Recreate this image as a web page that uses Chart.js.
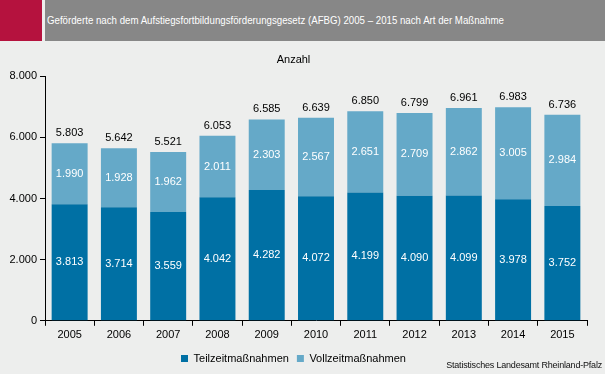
<!DOCTYPE html>
<html lang="de">
<head>
  <meta charset="UTF-8">
  <title>AFBG 2005 - 2015</title>
  <script src="https://cdn.jsdelivr.net/npm/chart.js"></script>
  <style>
    body {
      margin: 0;
      width: 605px;
      height: 374px;
      background: #edeeed;
      font-family: "Liberation Sans", Arial, sans-serif;
      overflow: hidden;
      position: relative;
    }
    .mark { position: absolute; left: 0; top: 0; width: 42px; height: 41px; background: #b5123e; }
    .head {
      position: absolute; left: 45px; top: 0; width: 560px; height: 41px;
      background: #878787; color: #fff; font-size: 11px; line-height: 40px;
      padding-left: 2px; box-sizing: border-box;
    }
    .head span { display: inline-block; transform: scaleX(0.88); transform-origin: left center; white-space: nowrap; }
    .box { position: absolute; left: 0; top: 45px; width: 605px; height: 329px; }
    .source { position: absolute; right: 3px; top: 360px; font-size: 9px; color: #111; letter-spacing: -0.2px; }
  </style>
</head>
<body>
  <div class="mark"></div>
  <div class="head"><span>Geförderte nach dem Aufstiegsfortbildungsförderungsgesetz (AFBG) 2005 – 2015 nach Art der Maßnahme</span></div>
  <div class="box"><canvas id="chart" width="605" height="329"></canvas></div>
  <div class="source">Statistisches Landesamt Rheinland-Pfalz</div>

  <script>
    const years = ['2005', '2006', '2007', '2008', '2009', '2010', '2011', '2012', '2013', '2014', '2015'];
    const teilzeit = [3813, 3714, 3559, 4042, 4282, 4072, 4199, 4090, 4099, 3978, 3752];
    const vollzeit = [1990, 1928, 1962, 2011, 2303, 2567, 2651, 2709, 2862, 3005, 2984];
    const totals = [5803, 5642, 5521, 6053, 6585, 6639, 6850, 6799, 6961, 6983, 6736];

    const fmt = v => String(v).replace(/\B(?=(\d{3})+(?!\d))/g, '.');

    // zahlen in den balken und summen darueber
    const valueLabels = {
      id: 'valueLabels',
      afterDatasetsDraw(chart) {
        const ctx = chart.ctx;
        ctx.save();
        ctx.font = '11px "Liberation Sans", Arial, sans-serif';
        ctx.textAlign = 'center';
        ctx.textBaseline = 'middle';
        chart.data.datasets.forEach((ds, i) => {
          chart.getDatasetMeta(i).data.forEach((bar, j) => {
            ctx.fillStyle = '#ffffff';
            ctx.fillText(fmt(ds.data[j]), bar.x, (bar.y + bar.base) / 2);
          });
        });
        const top = chart.getDatasetMeta(1).data;
        ctx.fillStyle = '#000000';
        top.forEach((bar, j) => ctx.fillText(fmt(totals[j]), bar.x, bar.y - 10));
        ctx.restore();
      }
    };

    new Chart(document.getElementById('chart'), {
      type: 'bar',
      data: {
        labels: years,
        datasets: [
          { label: 'Teilzeitmaßnahmen', data: teilzeit, backgroundColor: '#0070a4' },
          { label: 'Vollzeitmaßnahmen', data: vollzeit, backgroundColor: '#65a9c8' }
        ]
      },
      options: {
        responsive: false,
        animation: false,
        devicePixelRatio: 1,
        barPercentage: 0.73,
        categoryPercentage: 1,
        layout: { padding: { left: 0, right: 18, top: 0, bottom: 0 } },
        scales: {
          x: {
            stacked: true,
            border: { color: '#000', width: 1 },
            grid: { drawOnChartArea: false, color: '#000', tickLength: 5, offset: true },
            ticks: { color: '#000', maxRotation: 0, font: { size: 11, family: '"Liberation Sans", Arial' }, padding: 3 }
          },
          y: {
            stacked: true,
            min: 0,
            max: 8000,
            afterFit: s => { s.width = 45; },
            border: { color: '#000', width: 1 },
            grid: { drawOnChartArea: false, color: '#000', tickLength: 5 },
            ticks: {
              stepSize: 2000,
              color: '#000',
              padding: 3,
              font: { size: 11, family: '"Liberation Sans", Arial' },
              callback: v => fmt(v)
            }
          }
        },
        plugins: {
          title: {
            display: true,
            text: 'Anzahl',
            color: '#000',
            font: { size: 11, weight: 'normal', family: '"Liberation Sans", Arial' },
            padding: { top: 8, bottom: 10 }
          },
          legend: {
            position: 'bottom',
            labels: {
              color: '#000',
              boxWidth: 7,
              boxHeight: 7,
              padding: 8,
              font: { size: 11, family: '"Liberation Sans", Arial' }
            }
          },
          tooltip: { enabled: false }
        }
      },
      plugins: [valueLabels]
    });
  </script>
</body>
</html>
